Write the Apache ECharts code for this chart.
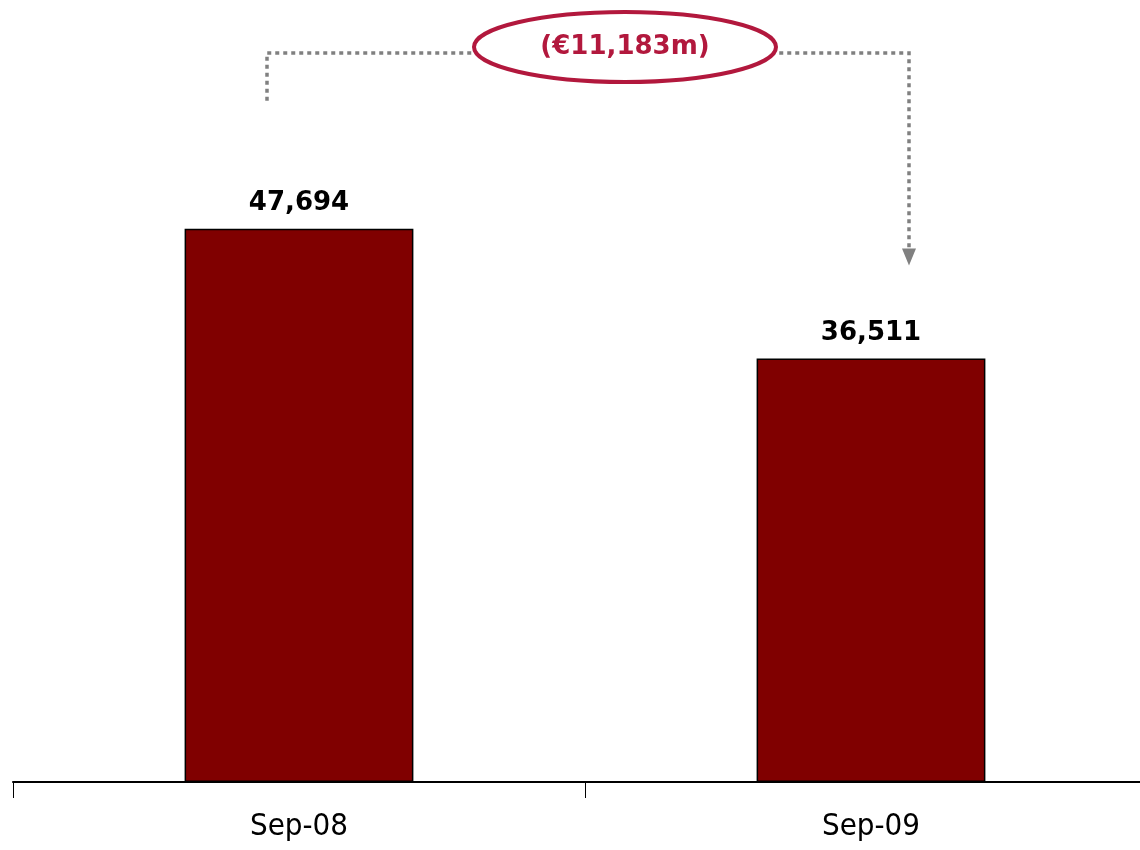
<!DOCTYPE html>
<html>
<head>
<meta charset="utf-8">
<script src="https://cdn.jsdelivr.net/npm/echarts@6/dist/echarts.min.js"></script>
<style>html,body{margin:0;padding:0;background:#fff}#c{width:1140px;height:850px}</style>
</head>
<body>
<div id="c"></div>
<script>
const categories = ['Sep-08', 'Sep-09'];
const values = [47694, 36511];
const changeLabel = '(€11,183m)';

const chart = echarts.init(document.getElementById('c'), null, {renderer: 'canvas'});
const fmt = v => v.toLocaleString('en-US');

chart.setOption({
  animation: false,
  backgroundColor: '#ffffff',
  grid: {left: 13, width: 1144, top: 86, bottom: 68, containLabel: false, outerBoundsMode: 'none'},
  xAxis: {
    type: 'category',
    data: categories,
    boundaryGap: true,
    axisLine: {show: true, lineStyle: {color: '#000', width: 2}},
    axisTick: {show: true, length: 16, lineStyle: {color: '#000', width: 1}},
    axisLabel: {color: '#000', fontFamily: 'DejaVu Sans Condensed', fontSize: 31, margin: 29}
  },
  yAxis: {type: 'value', min: 0, max: 60000, show: false, splitLine: {show: false}},
  series: [{
    type: 'bar',
    data: values,
    barWidth: '40%',
    itemStyle: {color: '#800000', borderColor: '#000', borderWidth: 1.5},
    label: {
      show: true, position: 'top', distance: 12,
      formatter: p => fmt(p.value),
      color: '#000', fontFamily: 'DejaVu Sans', fontWeight: 'bold', fontSize: 26
    }
  }]
});

// annotation built from bar positions
const p0 = chart.convertToPixel({xAxisIndex: 0, yAxisIndex: 0}, [0, values[0]]);
const p1 = chart.convertToPixel({xAxisIndex: 0, yAxisIndex: 0}, [1, values[1]]);
const xL = p0[0] - 32, xR = p1[0] + 38;
const yTop = 53;
const yLeftEnd = p0[1] - 128;
const yArrowTip = p1[1] - 93;
const dash = {stroke: '#808080', lineWidth: 3.5, lineDash: [4, 4]};
const crimson = '#B2183D';
const cx = (xL + xR) / 2 + 37;

chart.setOption({
  graphic: [
    {type: 'polyline', shape: {points: [[xL, yLeftEnd], [xL, yTop], [xR, yTop], [xR, yArrowTip - 16]]}, style: Object.assign({fill: null}, dash), z: 10},
    {type: 'polygon', shape: {points: [[xR - 7, yArrowTip - 17], [xR + 7, yArrowTip - 17], [xR, yArrowTip]]}, style: {fill: '#808080'}, z: 10},
    {type: 'ellipse', shape: {cx: cx, cy: 47, rx: 151, ry: 35}, style: {fill: '#fff', stroke: crimson, lineWidth: 4}, z: 20},
    {type: 'text', x: cx, y: 47, style: {text: changeLabel, fill: crimson, font: 'bold 26px "DejaVu Sans"', align: 'center', verticalAlign: 'middle'}, z: 30}
  ]
});
</script>
</body>
</html>
